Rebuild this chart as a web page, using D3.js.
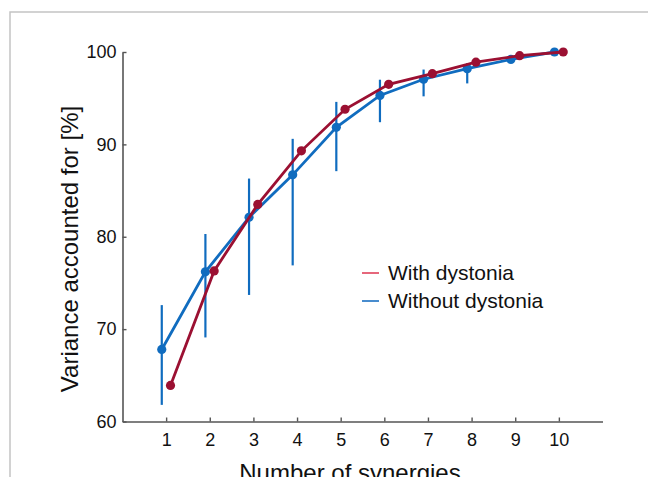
<!DOCTYPE html>
<html>
<head>
<meta charset="utf-8">
<script src="https://cdn.jsdelivr.net/npm/d3@7"></script>
<style>
  body { margin: 0; background: #fff; }
  svg { display: block; font-family: "Liberation Sans", Arial, sans-serif; }
</style>
</head>
<body>
<svg id="chart"></svg>
<script>
const width = 648;
const height = 477;

const synergies = [1, 2, 3, 4, 5, 6, 7, 8, 9, 10];
const withDystonia = [63.9, 76.3, 83.5, 89.3, 93.8, 96.5, 97.65, 98.9, 99.6, 100];
const withoutDystonia = [67.8, 76.2, 82.1, 86.7, 91.85, 95.3, 97.05, 98.2, 99.2, 100];
const withoutLow = [61.8, 69.1, 73.7, 76.9, 87.1, 92.4, 95.2, 96.6, 98.9, 99.9];
const withoutHigh = [72.6, 80.3, 86.3, 90.6, 94.6, 97.0, 98.1, 98.8, 99.5, 100.1];
const yTicks = [60, 70, 80, 90, 100];
const legendLabels = ["With dystonia", "Without dystonia"];

const red = "#9b1032";
const blue = "#106cbf";

const svg = d3.select("#chart").attr("width", width).attr("height", height);

// grey frame around the figure panel
svg.append("path")
    .attr("d", `M10,${height} V12 H${width}`)
    .attr("fill", "none")
    .attr("stroke", "#c4c4c4")
    .attr("stroke-width", 1.5);

const x = d3.scaleLinear().domain([0, 11]).range([122.5, 602.5]);
const y = d3.scaleLinear().domain([60, 100]).range([421.5, 52]);

const axisColor = "#555";

// x axis (ticks pointing inward)
const xAxis = svg.append("g")
    .attr("transform", `translate(0,${y(60)})`)
    .call(d3.axisBottom(x).tickValues(synergies).tickSize(-4).tickPadding(12).tickSizeOuter(0));
xAxis.select(".domain").attr("stroke", axisColor).attr("stroke-width", 1.6);
xAxis.selectAll(".tick line").attr("stroke", axisColor).attr("stroke-width", 1.4);
xAxis.selectAll(".tick text").attr("fill", "#111").attr("font-size", 18).attr("font-family", "Liberation Sans, Arial, sans-serif");

// y axis
const yAxis = svg.append("g")
    .attr("transform", `translate(${x(0)},0)`)
    .call(d3.axisLeft(y).tickValues(yTicks).tickSize(-4).tickPadding(6).tickSizeOuter(0));
yAxis.select(".domain").attr("stroke", axisColor).attr("stroke-width", 1.6);
yAxis.selectAll(".tick line").attr("stroke", axisColor).attr("stroke-width", 1.4);
yAxis.selectAll(".tick text").attr("fill", "#111").attr("font-size", 18).attr("font-family", "Liberation Sans, Arial, sans-serif");

// axis titles
svg.append("text")
    .attr("transform", `translate(78,249) rotate(-90)`)
    .attr("text-anchor", "middle")
    .attr("font-size", 24)
    .attr("fill", "#111")
    .text("Variance accounted for [%]");

svg.append("text")
    .attr("x", 350)
    .attr("y", 481)
    .attr("text-anchor", "middle")
    .attr("font-size", 24)
    .attr("fill", "#111")
    .text("Number of synergies");

const offset = 0.1;
const line = d3.line().x(d => x(d[0])).y(d => y(d[1]));

// without dystonia: error bars, line, dots
const blueData = synergies.map((s, i) => [s - offset, withoutDystonia[i], withoutLow[i], withoutHigh[i]]);
svg.append("g").selectAll("line")
    .data(blueData)
    .join("line")
    .attr("x1", d => x(d[0])).attr("x2", d => x(d[0]))
    .attr("y1", d => y(d[2])).attr("y2", d => y(d[3]))
    .attr("stroke", blue)
    .attr("stroke-width", 2.2);
svg.append("path")
    .datum(blueData)
    .attr("d", line)
    .attr("fill", "none")
    .attr("stroke", blue)
    .attr("stroke-width", 2.8);
svg.append("g").selectAll("circle")
    .data(blueData)
    .join("circle")
    .attr("cx", d => x(d[0])).attr("cy", d => y(d[1]))
    .attr("r", 4.6)
    .attr("fill", blue);

// with dystonia: line and dots
const redData = synergies.map((s, i) => [s + offset, withDystonia[i]]);
svg.append("path")
    .datum(redData)
    .attr("d", line)
    .attr("fill", "none")
    .attr("stroke", red)
    .attr("stroke-width", 2.8);
svg.append("g").selectAll("circle")
    .data(redData)
    .join("circle")
    .attr("cx", d => x(d[0])).attr("cy", d => y(d[1]))
    .attr("r", 4.6)
    .attr("fill", red);

// legend
const legendColors = ["#e0405a", "#1a6fc2"];
const legend = svg.append("g").attr("transform", "translate(362,273)");
legendLabels.forEach((label, i) => {
  const g = legend.append("g").attr("transform", `translate(0,${i * 28})`);
  g.append("line")
      .attr("x1", 0).attr("x2", 17)
      .attr("stroke", legendColors[i])
      .attr("stroke-width", 1.6);
  g.append("text")
      .attr("x", 26)
      .attr("dy", "0.35em")
      .attr("font-size", 21)
      .attr("fill", "#111")
      .text(label);
});
</script>
</body>
</html>
